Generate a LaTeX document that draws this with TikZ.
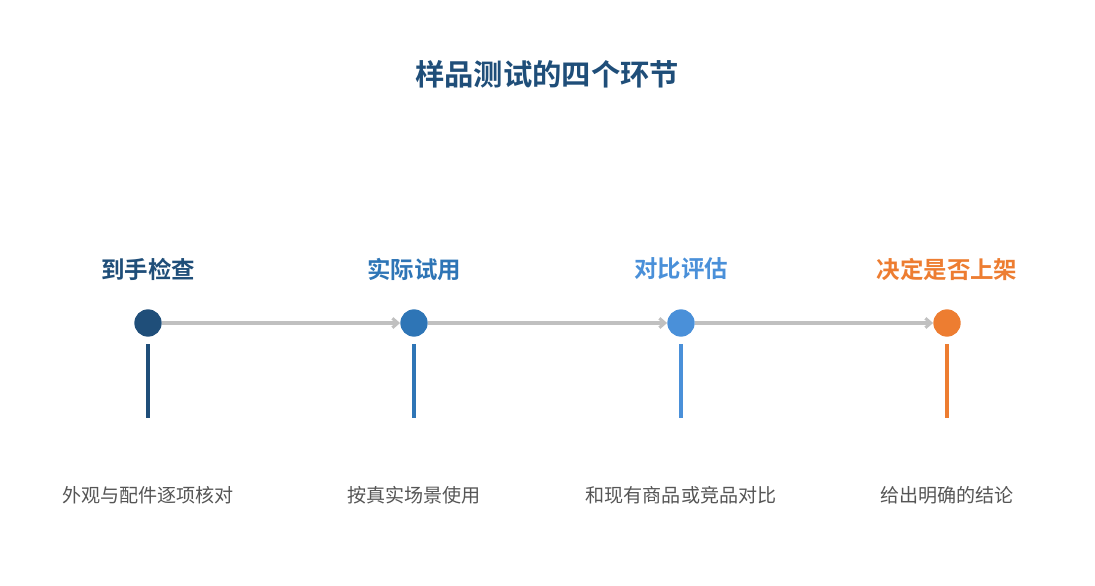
\documentclass[tikz,border=0pt]{standalone}
\usepackage{fontspec}
\setmainfont{Noto Sans CJK SC}[BoldFont={Noto Sans CJK SC Bold}]
\usetikzlibrary{%
  arrows.meta,
  positioning
}
\definecolor{stepA}{HTML}{1F4E79}
\definecolor{stepB}{HTML}{2E75B6}
\definecolor{stepC}{HTML}{4A90D9}
\definecolor{stepD}{HTML}{ED7D31}
\definecolor{linkgray}{HTML}{C0C0C0}
\definecolor{descgray}{HTML}{555555}
\tikzset{
  dot/.style={circle, fill=#1, minimum size=20.5pt, inner sep=0pt},
  steptitle/.style={font=\bfseries\fontsize{17.6pt}{19pt}\selectfont, text=#1},
  desc/.style={font=\fontsize{14.3pt}{17pt}\selectfont, text=descgray},
  link/.style={draw=linkgray, line width=2.3pt, -{Straight Barb[length=4pt,width=7pt]}},
  stem/.style={draw=#1, line width=2.6pt}
}
\begin{document}
\begin{tikzpicture}[x=0.75pt, y=-0.75pt]

  \useasboundingbox (0,0) rectangle (1095,585);

  \node[font=\bfseries\fontsize{22pt}{26pt}\selectfont, text=stepA] (title) at (547,74) {样品测试的四个环节};

  \node[dot=stepA] (s1) at (148,323) {};
  \node[dot=stepB] (s2) at (414,323) {};
  \node[dot=stepC] (s3) at (681,323) {};
  \node[dot=stepD] (s4) at (947,323) {};

  \node[steptitle=stepA] (t1) at (148,269) {到手检查};
  \node[steptitle=stepB] (t2) at (414,269) {实际试用};
  \node[steptitle=stepC] (t3) at (681,269) {对比评估};
  \node[steptitle=stepD] (t4) at (947,269) {决定是否上架};

  \node[desc] (d1) at (148,495) {外观与配件逐项核对};
  \node[desc] (d2) at (414,495) {按真实场景使用};
  \node[desc] (d3) at (681,495) {和现有商品或竞品对比};
  \node[desc] (d4) at (947,495) {给出明确的结论};

  \draw[link] (s1) -- (s2);
  \draw[link] (s2) -- (s3);
  \draw[link] (s3) -- (s4);

  \draw[stem=stepA] (148,344) -- (148,418);
  \draw[stem=stepB] (414,344) -- (414,418);
  \draw[stem=stepC] (681,344) -- (681,418);
  \draw[stem=stepD] (947,344) -- (947,418);
\end{tikzpicture}
\end{document}
